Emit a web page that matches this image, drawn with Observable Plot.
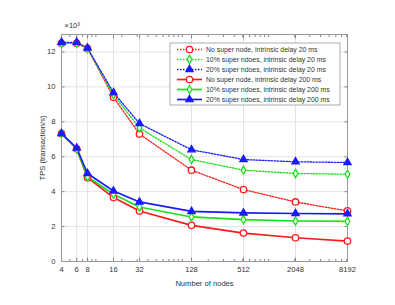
<!DOCTYPE html>
<html>
<head>
<meta charset="utf-8">
<script src="https://cdn.jsdelivr.net/npm/d3@7"></script>
<script src="https://cdn.jsdelivr.net/npm/@observablehq/plot@0.6"></script>
<style>
  html, body { margin: 0; padding: 0; background: white; }
  #chart { width: 395px; height: 305px; }
</style>
</head>
<body>
<div id="chart"></div>
<script>
const nodes = [4, 6, 8, 16, 32, 128, 512, 2048, 8192];
const noSuper20   = [12500, 12500, 12200, 9400, 7300, 5230, 4120, 3410, 2900];
const super10_20  = [12500, 12500, 12200, 9540, 7650, 5840, 5230, 5040, 5000];
const super20_20  = [12550, 12550, 12220, 9670, 7900, 6400, 5840, 5710, 5670];
const noSuper200  = [7330, 6450, 4800, 3660, 2890, 2070, 1630, 1360, 1170];
const super10_200 = [7330, 6450, 4850, 3850, 3120, 2550, 2400, 2320, 2300];
const super20_200 = [7330, 6500, 5040, 4040, 3410, 2870, 2780, 2750, 2730];
const yTicks = [0, 2000, 4000, 6000, 8000, 10000, 12000];
const seriesNames = [
  "No super node, intrinsic delay 20 ms",
  "10% super ndoes, intrinsic delay 20 ms",
  "20% super ndoes, intrinsic delay 20 ms",
  "No super node, intrinsic delay 200 ms",
  "10% super ndoes, intrinsic delay 200 ms",
  "20% super ndoes, intrinsic delay 200 ms"
];
const seriesValues = [noSuper20, super10_20, super20_20, noSuper200, super10_200, super20_200];
const seriesColors = ["#ff1a1a", "#1ae01a", "#1a1aff", "#ff1a1a", "#1ae01a", "#1a1aff"];
const seriesSymbols = ["circle", "diamond", "triangle", "circle", "diamond", "triangle"];
const seriesDashed = [true, true, true, false, false, false];
const symbolR = {circle: 3.2, diamond: 2.5, triangle: 2.7};

// minor log ticks (base-10 style, as in MATLAB)
const minorTicks = [];
for (const p of [1, 10, 100, 1000]) for (let m = 1; m <= 9; m++) {
  const v = m * p;
  if (v > 4 && v < 8192 && !nodes.includes(v)) minorTicks.push(v);
}

const rows = [];
seriesValues.forEach((vals, s) => nodes.forEach((n, i) => rows.push({s, name: seriesNames[s], x: n, y: vals[i]})));

const font = "'Liberation Sans', Arial, Helvetica, sans-serif";
const tickOnly = (anchor, size) => ({anchor, tickSize: size, stroke: "#888", fill: "none", label: null});
const marks = [
  Plot.gridX(nodes, {stroke: "#e3e3e3", strokeOpacity: 1}),
  Plot.gridY(yTicks, {stroke: "#e3e3e3", strokeOpacity: 1}),
  Plot.axisX(nodes, tickOnly("bottom", -3.5)),
  Plot.axisX(nodes, tickOnly("top", -3.5)),
  Plot.axisX(minorTicks, tickOnly("bottom", -2)),
  Plot.axisX(minorTicks, tickOnly("top", -2)),
  Plot.axisY(yTicks, tickOnly("left", -3.5)),
  Plot.axisY(yTicks, tickOnly("right", -3.5)),
  Plot.axisX(nodes, {anchor: "bottom", tickSize: 0, tickPadding: 5, tickFormat: d => String(d), fill: "#333", fontSize: 7.6, label: "Number of nodes", labelAnchor: "center", labelArrow: "none", labelOffset: 24}),
  Plot.axisY(yTicks, {anchor: "left", tickSize: 0, tickPadding: 6, tickFormat: d => String(d / 1000), fill: "#333", fontSize: 7.6, label: "TPS (transaction/s)", labelAnchor: "center", labelArrow: "none", labelOffset: 22}),
  Plot.frame({stroke: "#999"}),
  Plot.text(["×10³"], {frameAnchor: "top-left", textAnchor: "start", dy: -12, dx: 3, fill: "#333", fontSize: 7.5})
];
seriesValues.forEach((vals, s) => {
  const data = rows.filter(r => r.s === s);
  marks.push(Plot.line(data, {x: "x", y: "y", stroke: seriesColors[s], strokeWidth: seriesDashed[s] ? 1.3 : 1.7, strokeDasharray: seriesDashed[s] ? "1.5,1.5" : null}));
});
seriesValues.forEach((vals, s) => {
  const data = rows.filter(r => r.s === s);
  const sym = seriesSymbols[s];
  marks.push(Plot.dot(data, {x: "x", y: "y", symbol: sym, r: symbolR[sym], stroke: seriesColors[s], strokeWidth: 1.3, fill: sym === "triangle" ? seriesColors[s] : "white"}));
});

const chart = Plot.plot({
  width: 395, height: 305,
  marginLeft: 61, marginRight: 48, marginTop: 34, marginBottom: 44,
  style: {fontFamily: font, fontSize: "8px", background: "white", color: "#333"},
  x: {type: "log", base: 2, domain: [4, 8192]},
  y: {domain: [0, 13000]},
  marks
});
document.getElementById("chart").appendChild(chart);

// Legend (MATLAB-style box, top-right inside plot)
const svg = d3.select(chart);
const lg = svg.append("g").attr("transform", "translate(170,43)").style("font-family", font);
lg.append("rect").attr("width", 170).attr("height", 62).attr("fill", "white").attr("stroke", "#999").attr("stroke-width", 0.8);
seriesNames.forEach((name, s) => {
  const y = 6.5 + s * 10;
  const symName = seriesSymbols[s];
  lg.append("line").attr("x1", 7).attr("x2", 32).attr("y1", y).attr("y2", y)
    .attr("stroke", seriesColors[s]).attr("stroke-width", seriesDashed[s] ? 1.3 : 1.7)
    .attr("stroke-dasharray", seriesDashed[s] ? "1.5,1.5" : null);
  const sym = symName === "circle" ? d3.symbolCircle : symName === "diamond" ? d3.symbolDiamond : d3.symbolTriangle;
  const size = Math.PI * symbolR[symName] * symbolR[symName];
  lg.append("path").attr("d", d3.symbol(sym, size)()).attr("transform", `translate(19.5,${y})`)
    .attr("stroke", seriesColors[s]).attr("stroke-width", 1.3)
    .attr("fill", symName === "triangle" ? seriesColors[s] : "white");
  lg.append("text").attr("x", 36).attr("y", y).attr("dy", "0.35em").attr("text-anchor", "start")
    .attr("font-size", 6.9).attr("fill", "#333").text(name);
});
</script>
</body>
</html>
